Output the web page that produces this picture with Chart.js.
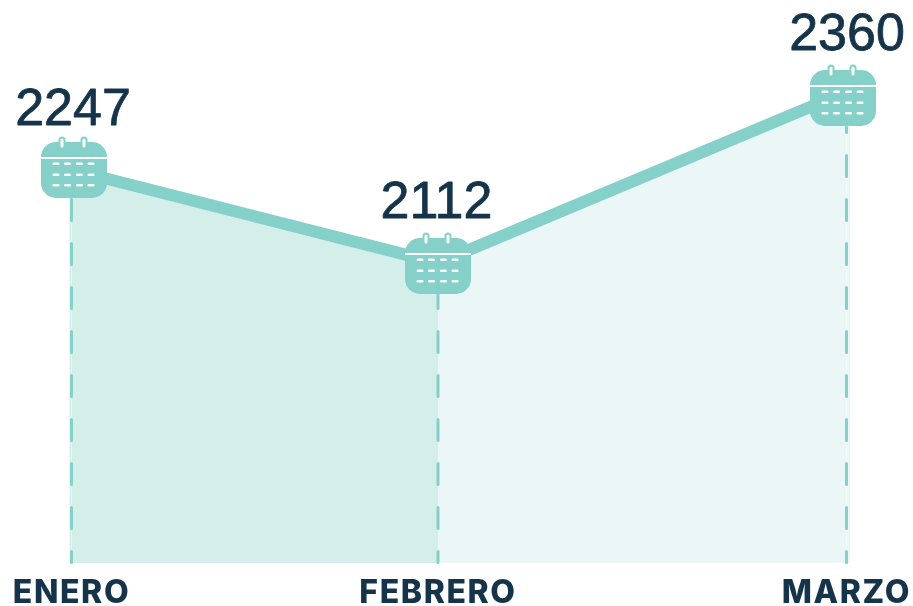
<!DOCTYPE html>
<html><head><meta charset="utf-8">
<style>html,body{margin:0;padding:0;background:#fff}#wrap{width:913px;height:606px}canvas{display:block}</style>
<script src="https://cdn.jsdelivr.net/npm/chart.js@4"></script></head>
<body><div id="wrap"><canvas id="c" width="913" height="606"></canvas></div>
<script>
const categories = ['ENERO','FEBRERO','MARZO'];
const values = [2247,2112,2360];
const slots = [0,366.5,775];
const TEAL='#85d0c9', INK='#15344a', FILL_A='#d4eeea', FILL_B='#eaf7f6';
const iconNudge=[[2.5,0.2],[0,3],[-4,6.6]];
const labelNudge=[[1.5,-44.8],[-1.5,-45],[0.5,-41.9]];

function rr(g,x,y,w,h,r){g.beginPath();g.roundRect(x,y,w,h,r);}
const icon=document.createElement('canvas');icon.width=70;icon.height=64;
(function(){const g=icon.getContext('2d');const ox=2,oy=6;
 g.fillStyle=TEAL;rr(g,ox,oy,66,56,15);g.fill();
 g.fillStyle='#fff';g.fillRect(ox,oy+15,66,2);
 for(const x of [21,43]){g.fillStyle=TEAL;rr(g,ox+x-3.5,oy-5.5,7,14,3.5);g.fill();
  g.fillStyle='#fff';rr(g,ox+x-1.5,oy-3.5,3,9,1.5);g.fill();}
 g.fillStyle='#fff';
 for(const y of [20.5,31.5,42])for(const x of [11.5,23,35,46.5]){rr(g,ox+x,oy+y,7,2.6,1.3);g.fill();}
})();

const decor={id:'decor',
 beforeDraw(ch){ch.ctx.letterSpacing='1.6px';},
 beforeDatasetsDraw(ch){const g=ch.ctx,x=ch.scales.x,y=ch.scales.y,b=ch.chartArea.bottom;
  g.save();
  const x0=x.getPixelForValue(slots[0]),x2=x.getPixelForValue(slots[2]);
  const y0=y.getPixelForValue(values[0]),y2=y.getPixelForValue(values[2]);
  g.fillStyle=FILL_A;g.fillRect(x0-2,y0,2,b-y0);
  g.fillStyle=FILL_B;g.fillRect(x2,y2,3.5,b-y2);
  g.restore();},
 afterDatasetsDraw(ch){const g=ch.ctx,x=ch.scales.x,y=ch.scales.y,b=ch.chartArea.bottom;
  g.save();
  g.letterSpacing='0px';
  values.forEach((v,i)=>{
    const lx=x.getPixelForValue(slots[i]),ly=y.getPixelForValue(v);
    const ix=lx+iconNudge[i][0],iy=ly+iconNudge[i][1];
    g.save();g.strokeStyle=TEAL;g.lineWidth=3;g.lineCap='round';g.setLineDash([21,23]);g.lineDashOffset=10;
    g.beginPath();g.rect(0,iy+28,913,606);g.clip();
    g.beginPath();g.moveTo(lx,b-0.5);g.lineTo(lx,iy+28);g.stroke();g.restore();
    g.drawImage(icon,Math.round(ix-35),Math.round(iy-34));
    g.fillStyle=INK;g.strokeStyle=INK;g.lineWidth=0.8;g.lineJoin='round';
    g.font='52px "Liberation Sans"';g.textAlign='center';g.textBaseline='alphabetic';
    const tx=lx+labelNudge[i][0],ty=ly+labelNudge[i][1];
    g.fillText(String(v),tx,ty);g.strokeText(String(v),tx,ty);
  });
  g.restore();}
};

new Chart(document.getElementById('c'),{type:'line',
 data:{datasets:[{data:slots.map((s,i)=>({x:s,y:values[i]})),borderColor:TEAL,borderWidth:12,pointRadius:0,tension:0,
   borderCapStyle:'butt',borderJoinStyle:'miter',fill:'origin',backgroundColor:FILL_A,
   segment:{backgroundColor:c=>c.p0DataIndex===0?FILL_A:FILL_B}}]},
 plugins:[decor],
 options:{responsive:false,animation:false,
  layout:{padding:{left:71.5,right:66.5,top:0,bottom:0}},
  plugins:{legend:{display:false},tooltip:{enabled:false},title:{display:false}},
  scales:{
   x:{type:'linear',min:slots[0],max:slots[2],grid:{display:false,drawTicks:false},border:{display:false},
      afterBuildTicks(s){s.ticks=slots.map(v=>({value:v}));},
      afterFit(s){s.height=43;s.paddingLeft=0;s.paddingRight=0;},
      ticks:{color:INK,font:{family:'Inter',size:32,weight:'800'},padding:11,maxRotation:0,autoSkip:false,
             callback:v=>categories[slots.indexOf(v)]}},
   y:{display:false,min:1677,max:2493}
  }}});
</script></body></html>
